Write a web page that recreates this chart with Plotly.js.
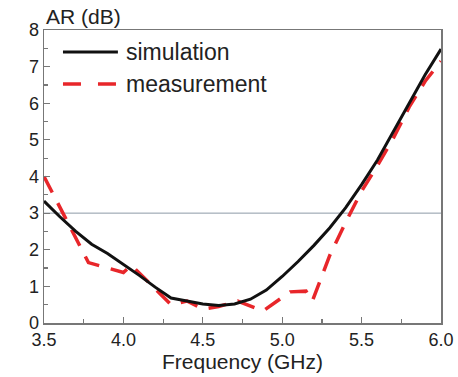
<!DOCTYPE html>
<html>
<head>
<meta charset="utf-8">
<script src="https://cdn.plot.ly/plotly-3.0.1.min.js"></script>
<style>html,body{margin:0;padding:0;background:#fff;}#chart{width:458px;height:377px;}</style>
</head>
<body>
<div id="chart"></div>
<script>
// Simulation (GHz, dB)
const simFreq = [3.5, 3.6, 3.7, 3.8, 3.9, 4.0, 4.1, 4.2, 4.3, 4.4, 4.5, 4.6, 4.7, 4.8, 4.9, 5.0, 5.1, 5.2, 5.3, 5.4, 5.5, 5.6, 5.7, 5.8, 5.9, 6.0];
const simAR   = [3.33, 2.9, 2.5, 2.15, 1.9, 1.61, 1.3, 0.98, 0.68, 0.6, 0.52, 0.48, 0.52, 0.65, 0.9, 1.27, 1.68, 2.12, 2.6, 3.15, 3.78, 4.45, 5.22, 6.02, 6.78, 7.48];
// Measurement (GHz, dB)
const measFreq = [3.5, 3.78, 4.0, 4.05, 4.3, 4.4, 4.5, 4.6, 4.72, 4.88, 5.05, 5.15, 5.19, 5.3, 5.4, 5.5, 5.6, 5.7, 5.8, 5.9, 6.0];
const measAR   = [4.0, 1.65, 1.38, 1.58, 0.5, 0.6, 0.38, 0.45, 0.6, 0.33, 0.85, 0.87, 0.6, 1.85, 2.75, 3.6, 4.3, 5.05, 5.9, 6.6, 7.15];
// 3 dB reference
const refFreq = [3.5, 6.0];
const refAR = [3, 3];
const seriesNames = ["simulation", "measurement"];
const xTickVals = [3.5, 4.0, 4.5, 5.0, 5.5, 6.0];
const yTickVals = [0, 1, 2, 3, 4, 5, 6, 7, 8];

const black = '#111111', red = '#e8262a', axisCol = '#777777', txt = '#222222';
const fontFam = '"Liberation Sans", Arial, sans-serif';

const traces = [
  {x: refFreq, y: refAR, mode: 'lines', line: {color: '#8c99a6', width: 1}, showlegend: false, hoverinfo: 'skip'},
  {x: measFreq, y: measAR, name: seriesNames[1], mode: 'lines', line: {color: red, width: 3.5, dash: '18px,12px'}, showlegend: false},
  {x: simFreq, y: simAR, name: seriesNames[0], mode: 'lines', line: {color: black, width: 3}, showlegend: false}
];

const L = 44, R = 441.5, T = 30, B = 323;
const W = R - L, H = B - T;
const px = v => (v - L) / W;
const py = v => (B - v) / H;

const layout = {
  width: 458, height: 377,
  margin: {l: L, r: 458 - R, t: T, b: 377 - B, pad: 0},
  paper_bgcolor: '#ffffff', plot_bgcolor: '#ffffff',
  font: {family: fontFam, color: txt, size: 18},
  showlegend: false,
  xaxis: {
    range: [3.5, 6.0], tickvals: xTickVals, ticktext: xTickVals.map(v => v.toFixed(1)),
    ticks: 'inside', ticklen: 6, tickwidth: 1.2, tickcolor: axisCol,
    minor: {dtick: 0.25, tick0: 3.5, ticks: 'inside', ticklen: 4, tickcolor: axisCol, tickwidth: 1.2},
    showline: true, linecolor: axisCol, linewidth: 1.5, mirror: true,
    showgrid: false, zeroline: false,
    tickfont: {size: 18, color: txt},
    title: {text: 'Frequency (GHz)', font: {size: 21, color: txt}, standoff: 2}
  },
  yaxis: {
    range: [0, 8], tickvals: yTickVals,
    ticks: 'inside', ticklen: 6, tickwidth: 1.2, tickcolor: axisCol,
    minor: {dtick: 0.5, tick0: 0, ticks: 'inside', ticklen: 4, tickcolor: axisCol, tickwidth: 1.2},
    showline: true, linecolor: axisCol, linewidth: 1.5, mirror: true,
    showgrid: false, zeroline: false,
    tickfont: {size: 18, color: txt}
  },
  shapes: [
    {type: 'line', xref: 'paper', yref: 'paper', x0: px(63), x1: px(118), y0: py(52), y1: py(52), line: {color: black, width: 3}},
    {type: 'line', xref: 'paper', yref: 'paper', x0: px(63), x1: px(118), y0: py(84), y1: py(84), line: {color: red, width: 3.5, dash: '18px,17px'}}
  ],
  annotations: [
    {text: 'AR (dB)', xref: 'paper', yref: 'paper', x: 0, y: 1, xanchor: 'left', yanchor: 'bottom', showarrow: false, font: {size: 21, color: txt}},
    {text: seriesNames[0], xref: 'paper', yref: 'paper', x: px(124), y: py(52), xanchor: 'left', yanchor: 'middle', showarrow: false, font: {size: 23, color: txt}},
    {text: seriesNames[1], xref: 'paper', yref: 'paper', x: px(124), y: py(84), xanchor: 'left', yanchor: 'middle', showarrow: false, font: {size: 23, color: txt}}
  ]
};

Plotly.newPlot('chart', traces, layout, {displayModeBar: false, staticPlot: true});
</script>
</body>
</html>
